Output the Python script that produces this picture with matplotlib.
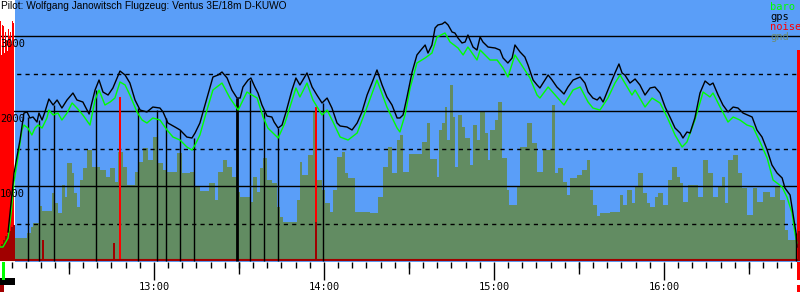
import matplotlib
matplotlib.use("Agg")
import matplotlib.pyplot as plt
import matplotlib.ticker as mticker

# time axis in minutes after 12:00, altitudes in metres
title = "Pilot: Wolfgang Janowitsch Flugzeug: Ventus 3E/18m D-KUWO"
t_start, t_end = 5.65, 288.0
flight_start = 10.9

gps_t = [8.5, 9.5, 10.2, 10.6, 12.7, 14.1, 15.2, 16.2, 17.3, 18.7, 19.4, 20.5, 21.5, 22.9, 24.4, 25.8,
         27.5, 29.3, 31.4, 32.8, 34.9, 37.1, 39.2, 40.6, 42.0, 43.8, 45.5, 48.0, 49.8, 51.5, 53.3,
         55.1, 57.5, 59.6, 62.1, 63.2, 64.9, 67.4, 69.2, 71.6, 73.4, 74.5,
         76.2, 78.7, 80.8, 82.6, 84.0, 85.8, 87.5, 89.3, 90.4, 91.4, 93.2, 94.2, 95.6, 96.7, 98.1,
         99.9, 101.6, 102.4, 103.8, 105.2, 106.6, 108.7, 110.1, 111.5, 114.0, 115.8, 117.5, 119.3,
         121.1, 122.8, 124.6, 125.7, 128.1, 129.9, 131.7, 133.4, 135.2, 136.9, 138.7, 140.5, 142.2,
         144.0, 145.8,
         146.8, 147.9, 149.3, 151.1, 152.8, 154.2, 155.7, 156.7, 158.1, 159.2, 160.2, 161.7, 162.7,
         163.8, 165.2, 166.2, 167.3, 168.7, 169.8, 170.8, 172.6, 174.0, 175.1, 176.1, 177.9, 180.4,
         182.1, 183.2, 184.9, 186.4, 187.4, 189.2, 190.9, 192.0, 193.8, 195.2, 196.2, 197.3, 199.1,
         200.5, 202.2, 203.3, 204.7, 206.1, 207.9, 210.4, 212.1, 213.2, 214.9, 216.4,
         217.4, 218.5, 220.2, 222.7, 224.1, 225.2, 226.2, 228.0, 229.8, 231.5, 233.3, 235.1, 236.8,
         238.6, 240.4, 242.1, 243.9, 245.7, 246.7, 248.1, 249.2, 250.9, 252.7, 254.5, 256.2, 257.3,
         259.1, 260.8, 262.6, 264.4, 266.1, 267.9, 271.1, 272.8, 274.6, 276.4, 278.1, 279.9, 281.7,
         282.7, 284.5, 285.5, 286.6, 286.9]
gps_alt = [387, 747, 1013, 1173, 1613, 1973, 1987, 1907, 1920, 1853, 1973, 1880, 1987, 2160, 2080, 2147,
           2040, 2147, 2240, 2147, 2120, 1960, 2280, 2413, 2253, 2213, 2307, 2533, 2480, 2373, 2147,
           2013, 1987, 2053, 2040, 1987, 1840, 1787, 1747, 1653, 1640, 1707,
           1840, 2173, 2453, 2480, 2520, 2440, 2280, 2173, 2173, 2320, 2413, 2440, 2320, 2240, 2080,
           1933, 1920, 1853, 1773, 1813, 1987, 2280, 2440, 2347, 2507, 2320, 2213, 2107,
           2173, 2040, 1840, 1800, 1787, 1747, 1840, 1987, 2213, 2373, 2547, 2347, 2187,
           2080, 1907,
           1907, 1947, 2187, 2520, 2747, 2813, 2880, 2773, 2880, 3107, 3147, 3160, 3187,
           3147, 3053, 3040, 2973, 2907, 2920, 3013, 2853, 2813, 2987, 2920, 2853, 2840,
           2813, 2707, 2640, 2707, 2880, 2787, 2720, 2613, 2413, 2347, 2307, 2373, 2480,
           2413, 2320, 2280, 2227, 2320, 2413, 2453, 2373, 2253, 2173, 2147,
           2187, 2120, 2280, 2507, 2627, 2507, 2480, 2373, 2427, 2347, 2213, 2307, 2320,
           2240, 2053, 1920, 1773, 1707, 1640, 1720, 1707, 1907, 2240, 2400, 2347, 2373,
           2213, 2080, 1987, 2053, 2040, 1973, 1920, 1747, 1653, 1480, 1280, 1173, 1107,
           973, 880, 640, 373, 187]

baro_t = [5.65, 6.7, 8.5, 9.5, 10.2, 10.6, 12.0, 13.4, 14.1, 15.5, 16.9, 18.0, 19.1, 20.5, 22.2, 22.9,
          24.4, 26.1, 27.5, 29.3, 31.1, 32.8, 34.9, 37.4, 39.2, 40.6, 42.7, 44.5, 46.2, 48.0, 49.8,
          51.5, 54.0, 55.8, 57.5, 59.6, 62.1, 64.6, 66.7, 69.2, 71.6, 73.4, 74.5,
          76.2, 78.7, 80.8, 84.0, 86.8, 89.7, 92.8, 96.4, 98.5, 100.2, 103.8, 106.2, 110.1, 111.5,
          114.0, 116.1, 119.3, 121.1, 123.2, 125.7, 128.5, 131.7, 135.2, 138.7, 142.2, 145.8,
          146.8, 148.6, 150.4, 152.8, 155.7, 158.1, 159.9, 162.7, 164.5, 167.3, 169.1, 170.8, 174.0,
          175.1, 178.6, 181.1, 183.2, 184.9, 187.4, 190.2, 192.7, 195.2, 196.2, 199.1, 202.2, 204.7,
          207.9, 210.4, 213.2, 214.9,
          217.4, 220.2, 222.7, 224.5, 226.2, 228.7, 229.8, 233.3, 235.8, 238.6, 241.1, 243.9, 246.4,
          248.1, 250.9, 253.8, 256.2, 257.3, 259.8, 262.6, 264.4, 266.8, 269.3, 271.4, 273.9, 276.4,
          278.5, 281.7, 283.4, 285.2, 286.2, 286.9]
baro_alt = [187, 187, 307, 613, 880, 1053, 1387, 1747, 1813, 1773, 1680, 1773, 1813, 1773, 1907, 2013,
            1947, 1973, 1880, 1973, 2107, 2040, 1947, 1813, 2147, 2280, 2080, 2120, 2173, 2387, 2347,
            2213, 1987, 1880, 1840, 1907, 1880, 1747, 1653, 1613, 1520, 1480, 1547,
            1680, 2013, 2280, 2373, 2173, 2013, 2253, 2173, 1920, 1773, 1640, 1840, 2307, 2187,
            2373, 2147, 1947, 2013, 1853, 1653, 1613, 1707, 2053, 2413, 2053, 1773,
            1720, 1947, 2307, 2640, 2707, 2773, 2987, 3040, 2920, 2840, 2747, 2853, 2680,
            2813, 2680, 2680, 2573, 2453, 2747, 2587, 2440, 2213, 2173, 2320, 2187, 2080,
            2280, 2320, 2120, 2040,
            2013, 2173, 2373, 2480, 2373, 2213, 2280, 2053, 2173, 2107, 1920, 1680, 1520,
            1587, 1880, 2253, 2187, 2240, 2053, 1853, 1920, 1880, 1813, 1787, 1587, 1373,
            1080, 987, 853, 640, 373, 240]

gnd_t = [10.9, 15.2, 16.6, 17.3, 19.4, 20.5, 24.0, 25.1, 26.1, 27.5, 28.6, 29.3, 31.1, 31.8, 32.8,
         33.9, 34.9, 36.4, 38.1, 40.9, 43.1, 44.5, 46.2, 47.3, 49.1, 50.5, 53.3, 54.4, 56.1, 57.9,
         59.6, 61.1, 63.2, 64.6, 68.1, 69.9, 72.7, 74.5,
         76.2, 79.4, 81.5, 82.6, 84.4, 85.8, 87.5, 89.3, 90.4, 93.9, 94.9, 96.4, 97.4, 98.5, 99.9,
         101.6, 103.4, 104.5, 105.5, 110.5, 111.5, 112.2, 114.4, 116.1, 117.5, 119.3, 120.4, 122.1,
         123.2, 124.6, 126.4, 127.4, 128.5, 130.9, 136.2, 139.1, 140.8, 142.6, 144.0, 145.8,
         146.8, 147.9, 150.0, 154.6, 156.4, 157.4, 159.9, 160.6, 161.7, 162.7, 163.4, 164.5, 165.5,
         166.2, 167.3, 168.7, 169.8, 171.5, 172.6, 174.0, 175.1, 176.8, 177.9, 178.6, 180.4, 181.4,
         182.8, 184.6, 185.3, 188.1, 189.2, 191.7, 193.4, 195.2, 197.3, 200.5, 201.5, 202.6, 204.4,
         205.8, 206.8, 209.3, 211.1, 212.8, 213.9, 214.9, 216.4,
         217.4, 220.9, 224.5, 225.5, 226.9, 228.7, 229.8, 230.8, 232.6, 234.0, 235.1, 236.8, 237.9,
         239.7, 241.4, 242.8, 244.6, 245.7, 246.7, 248.5, 252.0, 253.8, 255.5, 257.3, 259.1, 260.5,
         261.5, 262.6, 264.4, 266.1, 267.5, 269.3, 271.4, 272.8, 274.9, 277.4, 279.2, 280.9, 282.7,
         283.8, 286.9, 288.0]
gnd_alt = [307, 373, 453, 507, 733, 667, 907, 773, 640, 1013, 853, 1307, 1173, 907, 720,
           1080, 1240, 1480, 1253, 1213, 1120, 1240, 1053, 1453, 1253, 1013, 1187, 1320, 1507, 1347,
           1653, 1307, 1213, 1187, 1440, 1173, 1187, 987,
           933, 1040, 813, 1187, 1347, 1253, 1120, 920, 853, 787, 1120, 920, 1240, 1373, 1080,
           1040, 720, 587, 520, 813, 1320, 1147, 1413, 1987, 1080, 947, 773, 653,
           947, 1387, 1453, 1173, 1107, 653, 640, 853, 1253, 1520, 1173, 1613,
           1680, 1187, 1427, 1587, 1840, 1360, 1120, 1747, 1840, 2053, 1613, 2347, 1920,
           1253, 1947, 1787, 1640, 1280, 1813, 1613, 1987, 1707, 1347, 1747, 1880, 2120,
           1373, 947, 747, 987, 1520, 1840, 1573, 1187, 1480, 2080, 1173, 1240, 1053,
           880, 1107, 1147, 1213, 1347, 947, 747, 600,
           640, 653, 880, 747, 947, 773, 987, 1173, 907, 773, 720, 853, 907,
           747, 1080, 1253, 1120, 1040, 787, 1013, 853, 1347, 1173, 853, 987, 1120,
           773, 1347, 1413, 1173, 973, 613, 973, 787, 920, 853, 987, 813, 413,
           280, 187, 187]

# vertical markers dropped from the track to the ground
mark_t = [15.5, 19.4, 24.7, 39.5, 54.4, 61.1, 64.2, 69.2, 74.1, 89.3, 93.9, 98.8, 103.8, 119.7, 286.6]
mark_alt = [1920, 1880, 2080, 2280, 2040, 2013, 1907, 1747, 1640, 2173, 2413, 1987, 1773, 2107, 373]

noise_t = [5.8, 6.2, 6.6, 6.9, 7.3, 7.6, 8.0, 8.3, 8.7, 9.0, 9.4, 9.7, 10.1, 10.5, 48.0, 117.2,
           287.1, 287.5, 287.9]
noise_v = [3200, 2750, 3150, 3130, 2780, 3050, 2950, 2800, 3100, 3000, 3050, 2900, 3200, 3180,
           2187, 2053, 2813, 2813, 2813]
noise2_t = [5.8, 6.5, 7.2, 7.9, 8.6, 9.3, 10.0, 10.6, 20.8, 45.9, 117.2, 287.5]
noise2_v = [190, 230, 280, 330, 360, 400, 450, 480, 280, 240, 520, 400]

sky = "#5a9ef8"
gnd_col = "#628c62"

fig = plt.figure(figsize=(8, 3), dpi=100)
ax = fig.add_axes([0, 38 / 300, 1, 262 / 300])
ax.set_facecolor("white")
ax.set_xlim(t_start, t_end)
ax.set_ylim(-13, 3480)

ax.axvspan(flight_start, t_end, color=sky, zorder=0, lw=0)
ax.fill_between(gnd_t, gnd_alt, 0, step="post", color=gnd_col, lw=0, zorder=1)

for v in [1000, 2000, 3000]:
    ax.axhline(v, color="black", lw=1, zorder=2)
for v in [500, 1500, 2500]:
    ax.axhline(v, color="black", lw=1, ls=(0, (3, 3)), zorder=2)

ax.bar(noise_t, noise_v, width=0.4, color="red", lw=0, zorder=3)
ax.bar(noise2_t, noise2_v, width=0.7, color="#a00000", lw=0, zorder=3)
ax.axhline(8, color="#a00000", lw=1.5, zorder=3)

lw_marks = [2 if t == 89.3 else 1 for t in mark_t]
ax.vlines(mark_t, 0, mark_alt, colors="black", lw=lw_marks, zorder=3)

ax.plot(baro_t, baro_alt, color="#00ff00", lw=1.0, zorder=4)
ax.plot(gps_t, gps_alt, color="black", lw=1.0, zorder=5)

for sp in ax.spines.values():
    sp.set_visible(False)
ax.set_yticks([])

def hhmm(m, pos=None):
    return "%d:%02d" % (12 + int(m // 60), int(round(m % 60)))

ax.xaxis.set_major_locator(mticker.FixedLocator([60, 120, 180, 240]))
ax.xaxis.set_major_formatter(mticker.FuncFormatter(hhmm))
ax.xaxis.set_minor_locator(mticker.MultipleLocator(5))
ax.tick_params(axis="x", which="major", length=13, width=1, pad=1.5, labelsize=7.5)
ax.tick_params(axis="x", which="minor", length=4.3, width=1)
for lab in ax.get_xticklabels():
    lab.set_family("DejaVu Sans Mono")

sec = ax.secondary_xaxis("bottom")
sec.set_xticks([30, 90, 150, 210, 270])
sec.tick_params(length=8.6, width=1, labelbottom=False)
sec.spines["bottom"].set_visible(False)

for v in [1000, 2000, 3000]:
    ax.annotate(str(v), xy=(0, v), xycoords=("axes fraction", "data"), xytext=(0, -3),
                textcoords="offset pixels", va="top", ha="left", fontsize=7.5,
                family="DejaVu Sans Mono", zorder=6)

fig.text(0.001, 0.997, title, va="top", ha="left", fontsize=7.3, family="Liberation Sans")

legend_items = [("baro", "#00ff00"), ("gps", "black"), ("noise", "red"), ("gnd", "#6e8c6e")]
for i, (name, col) in enumerate(legend_items):
    fig.text(770 / 800, 1 - (7.5 + 10 * i) / 300, name, va="center", ha="left", color=col,
             fontsize=7.5, family="DejaVu Sans Mono")

# launch / landing indicators under the time axis
bt = ax.get_xaxis_transform()
ax.add_patch(plt.Rectangle((t_start, -0.06), flight_start - t_start, -0.027, transform=bt,
                           color="black", clip_on=False, lw=0))
ax.add_patch(plt.Rectangle((6.4, 0), 0.9, -0.07, transform=bt, color="#00ff00", clip_on=False, lw=0))
ax.add_patch(plt.Rectangle((t_start, -0.088), 1.4, -0.027, transform=bt, color="#a00000",
                           clip_on=False, lw=0))
ax.add_patch(plt.Rectangle((287.1, 0), 0.9, -0.07, transform=bt, color="red", clip_on=False, lw=0))
ax.add_patch(plt.Rectangle((287.1, -0.088), 0.9, -0.027, transform=bt, color="red",
                           clip_on=False, lw=0))

fig.savefig("out.png", dpi=100)
